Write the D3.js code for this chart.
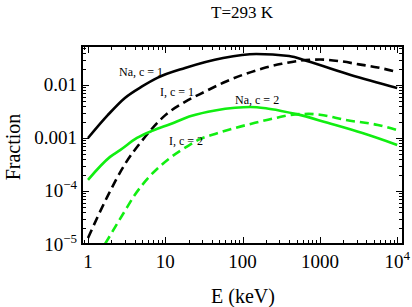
<!doctype html>
<html lang="en">
<head>
<meta charset="utf-8">
<title>T=293 K</title>
<script src="https://d3js.org/d3.v7.min.js"></script>
<style>
  body { margin: 0; background: #fff; }
  text { font-family: "Liberation Serif", "DejaVu Serif", serif; fill: #000; }
</style>
</head>
<body>
<svg id="chart" width="412" height="307"></svg>
<script>
// values (E in keV, fraction)
var naC1Energy = [1, 1.8, 3, 5, 8, 18, 56, 150, 400, 680, 2500, 10000];
var naC1Fraction = [1.0e-3, 2.7e-3, 5.7e-3, 9.4e-3, 0.0138, 0.021, 0.0324, 0.0385, 0.0352, 0.0284, 0.0155, 0.0088];

var iC1Energy = [1, 1.8, 3, 5, 10, 18, 32, 56, 100, 180, 320, 560, 1000, 1800, 3200, 5600, 10000];
var iC1Fraction = [1.3e-5, 8.1e-5, 3.2e-4, 8.9e-4, 2.7e-3, 4.8e-3, 7.4e-3, 0.011, 0.0155, 0.0204, 0.0251, 0.0288, 0.0302, 0.0282, 0.0245, 0.0214, 0.0176];

var naC2Energy = [1, 1.93, 2.6, 4.3, 6.9, 11.5, 22, 44, 80, 125, 200, 316, 500, 1260, 3550, 10000];
var naC2Fraction = [1.62e-4, 4.4e-4, 5.9e-4, 1.0e-3, 1.38e-3, 1.82e-3, 2.63e-3, 3.31e-3, 3.72e-3, 3.85e-3, 3.63e-3, 3.24e-3, 2.82e-3, 1.93e-3, 1.24e-3, 7.4e-4];

var iC2Energy = [1.66, 3.0, 4.0, 6.3, 11.5, 20, 28, 44, 80, 145, 263, 480, 710, 1000, 2140, 5620, 10000];
var iC2Fraction = [1.0e-5, 4.2e-5, 8.3e-5, 1.9e-4, 4.2e-4, 7.2e-4, 9.5e-4, 1.19e-3, 1.55e-3, 1.93e-3, 2.37e-3, 2.79e-3, 2.85e-3, 2.75e-3, 2.19e-3, 1.76e-3, 1.41e-3];

var curveNames = ["Na, c = 1", "I, c = 1", "Na, c = 2", "I, c = 2"];
var labelEnergy = [4.85, 14.2, 154, 18.5];
var labelFraction = [0.0148, 0.0062, 0.00439, 7.4e-4];

var xTickLabels = ["1", "10", "100", "1000", "10^4"];
var yTickLabels = ["0.01", "0.001", "10^-4", "10^-5"];

var svg = d3.select("#chart");
var plotLeft = 82, plotRight = 403, plotTop = 46, plotBottom = 244;

var x = d3.scaleLog().domain([0.836, 11890]).range([plotLeft, plotRight]);
var y = d3.scaleLog().domain([1e-5, 0.0544]).range([plotBottom, plotTop]);

svg.append("clipPath").attr("id", "plotClip")
  .append("rect")
  .attr("x", plotLeft).attr("y", plotTop)
  .attr("width", plotRight - plotLeft).attr("height", plotBottom - plotTop);

var green = "#11ee11";
var series = [
  { e: naC1Energy, f: naC1Fraction, color: "#000", dash: null },
  { e: iC1Energy, f: iC1Fraction, color: "#000", dash: "9,5" },
  { e: naC2Energy, f: naC2Fraction, color: green, dash: null },
  { e: iC2Energy, f: iC2Fraction, color: green, dash: "9,5" }
];

var line = d3.line()
  .x(function(d) { return x(d[0]); })
  .y(function(d) { return y(d[1]); })
  .curve(d3.curveMonotoneX);

svg.append("g")
  .attr("clip-path", "url(#plotClip)")
  .selectAll("path")
  .data(series)
  .enter()
  .append("path")
    .attr("d", function(s) { return line(d3.zip(s.e, s.f)); })
    .attr("fill", "none")
    .attr("stroke", function(s) { return s.color; })
    .attr("stroke-width", 2.6)
    .attr("stroke-dasharray", function(s) { return s.dash; });

// ticks inside the frame, on all four sides
function isMajor(v) {
  var l = Math.log10(v);
  return Math.abs(l - Math.round(l)) < 1e-9;
}
var ticks = svg.append("g").attr("stroke", "#000").attr("stroke-width", 1);
x.ticks().forEach(function(v) {
  var len = isMajor(v) ? 7 : 4;
  var px = Math.round(x(v)) + 0.5;
  ticks.append("line").attr("x1", px).attr("x2", px).attr("y1", plotBottom).attr("y2", plotBottom - len);
  ticks.append("line").attr("x1", px).attr("x2", px).attr("y1", plotTop).attr("y2", plotTop + len);
});
y.ticks().forEach(function(v) {
  var len = isMajor(v) ? 7 : 4;
  var py = Math.round(y(v)) + 0.5;
  ticks.append("line").attr("x1", plotLeft).attr("x2", plotLeft + len).attr("y1", py).attr("y2", py);
  ticks.append("line").attr("x1", plotRight).attr("x2", plotRight - len).attr("y1", py).attr("y2", py);
});

svg.append("rect")
  .attr("x", plotLeft).attr("y", plotTop)
  .attr("width", plotRight - plotLeft).attr("height", plotBottom - plotTop)
  .attr("fill", "none").attr("stroke", "#000").attr("stroke-width", 2);

// tick labels, with superscripts written as base^exp
function writeLabel(sel, s) {
  var parts = s.split("^");
  sel.append("tspan").text(parts[0]);
  if (parts.length > 1) {
    sel.append("tspan").attr("font-size", 13).attr("dy", -8)
      .text(parts[1].replace("-", "\u2212"));
  }
}

var xTickValues = [1, 10, 100, 1000, 10000];
xTickValues.forEach(function(v, i) {
  var t = svg.append("text")
    .attr("x", x(v)).attr("y", 268)
    .attr("text-anchor", "middle")
    .attr("font-size", 19);
  writeLabel(t, xTickLabels[i]);
});

var yTickValues = [0.01, 0.001, 1e-4, 1e-5];
yTickValues.forEach(function(v, i) {
  var t = svg.append("text")
    .attr("x", 77).attr("y", y(v) + 6.5)
    .attr("text-anchor", "end")
    .attr("font-size", 19);
  writeLabel(t, yTickLabels[i]);
});

// curve labels
curveNames.forEach(function(name, i) {
  svg.append("text")
    .attr("x", x(labelEnergy[i])).attr("y", y(labelFraction[i]))
    .attr("text-anchor", "middle")
    .attr("font-size", 12)
    .text(name);
});

svg.append("text")
  .attr("x", 242).attr("y", 18)
  .attr("text-anchor", "middle")
  .attr("font-size", 17)
  .text("T=293 K");

svg.append("text")
  .attr("x", 243).attr("y", 303)
  .attr("text-anchor", "middle")
  .attr("font-size", 20)
  .text("E (keV)");

svg.append("text")
  .attr("transform", "translate(20,147) rotate(-90)")
  .attr("text-anchor", "middle")
  .attr("font-size", 20)
  .text("Fraction");
</script>
</body>
</html>
